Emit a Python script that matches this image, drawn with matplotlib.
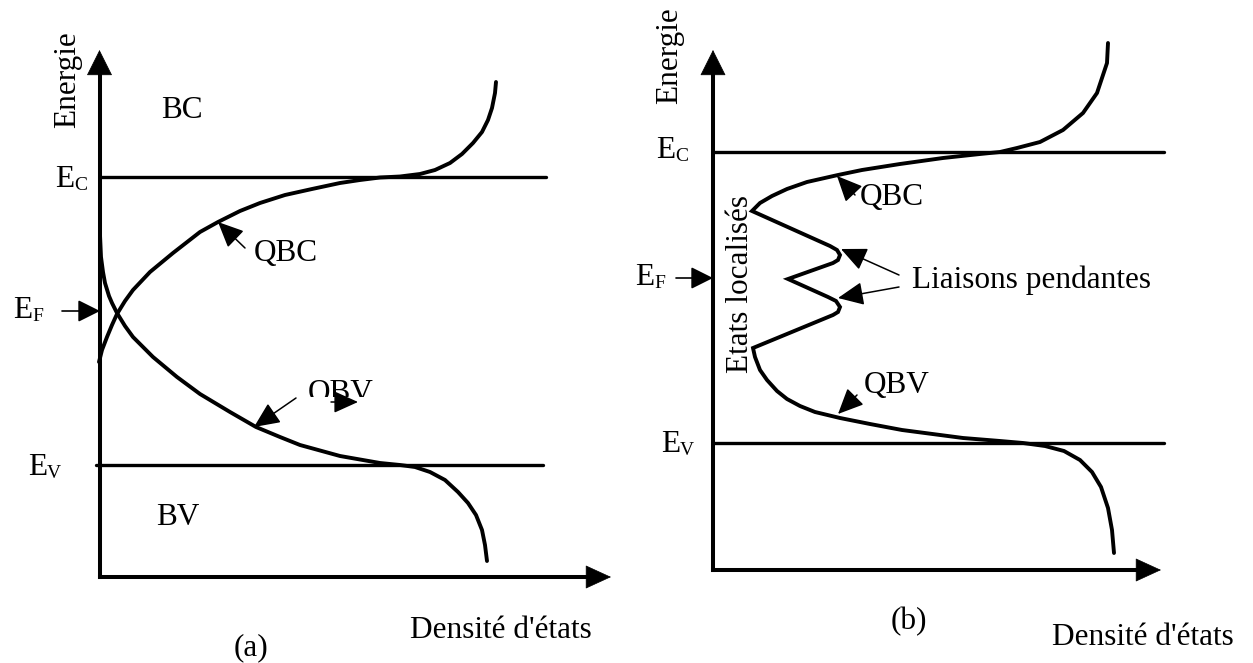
import matplotlib
matplotlib.use('Agg')
import matplotlib.pyplot as plt
from matplotlib.patches import Rectangle

plt.rcParams['font.family'] = ['Liberation Serif', 'DejaVu Serif']

W, H = 1253, 663

# ---------------- data (pixel space) ----------------
# Panel (a): band-tail curves
qbc_a_x = [99, 102, 107, 112, 117, 125, 133, 150, 173, 200, 218, 240, 260, 285, 312,
           340, 360, 380, 400, 420, 435, 450, 462, 473, 482, 488, 492, 495, 496]
qbc_a_y = [362, 350, 337, 325, 314, 301, 290, 272, 253, 232, 222, 211, 203, 195, 189,
           183, 180, 177.5, 176.5, 174, 170, 163, 154, 143, 132, 120, 108, 93, 82]
qbv_a_x = [100, 101, 103, 105, 109, 112, 117, 125, 133, 153, 177, 200, 230, 256, 280,
           300, 340, 380, 400, 415, 430, 445, 458, 468, 476, 482, 485, 487]
qbv_a_y = [235, 257, 272, 283, 296, 303, 313, 326, 337, 357, 377, 394, 412, 427, 437,
           445, 456, 463, 465, 467, 472, 480, 492, 503, 515, 530, 545, 561]

# Panel (b): density of states with localized states and dangling bonds
dos_b_x = [1108, 1107, 1097, 1083, 1063, 1040, 1017, 1000, 980, 943, 900, 862, 838, 807,
           787, 772, 760, 752,
           830, 837, 840, 838, 833, 788, 828, 836, 840, 838, 833, 753,
           755, 760, 767, 777, 787, 800, 815, 840, 870, 902, 963, 1000, 1023, 1045, 1064,
           1080, 1092, 1101, 1108, 1112, 1114]
dos_b_y = [43, 63, 93, 113, 130, 142, 148, 152, 154, 158, 164, 170, 175, 182,
           189, 196, 203, 211,
           246, 250, 255, 260, 263, 279, 297, 301, 307, 312, 315, 348,
           357, 370, 380, 391, 399, 406, 412, 418, 424, 430, 438, 441, 443, 446, 451,
           460, 472, 487, 508, 530, 553]

# Energy levels
levels_a = {'Ec': 177, 'Ev': 465, 'EF': 311}
levels_b = {'Ec': 152, 'Ev': 443, 'EF': 278}

# annotation arrows: (tail, tip)
ann_arrows = [((245, 248), (218, 222)),   # QBC (a)
              ((296, 398), (254, 427)),   # QBV (a)
              ((855, 195), (837, 176)),   # QBC (b)
              ((857, 395), (838, 414)),   # QBV (b)
              ((899, 275), (841, 249)),   # liaisons 1
              ((899, 287), (838, 298))]   # liaisons 2

# ---------------- figure ----------------
fig = plt.figure(figsize=(W / 100, H / 100), dpi=100)
ax = fig.add_axes([0, 0, 1, 1])
ax.set_xlim(0, W)
ax.set_ylim(H, 0)
ax.axis('off')

K = 'black'
LW_AX, LW_LVL, LW_CRV = 2.9, 2.4, 2.8
FS, FS_SUB = 22.5, 14


def arrow(tail, tip, hl, hw, lw=1.1, z=5):
    ax.annotate('', xy=tip, xytext=tail, annotation_clip=False, zorder=z,
                arrowprops=dict(arrowstyle=f'-|>,head_length={hl * 0.72},head_width={hw * 0.72}',
                                mutation_scale=1, lw=lw, color=K, shrinkA=0, shrinkB=0))


def sublabel(x, yb, main, sub):
    ax.text(x, yb, main, ha='right', va='baseline', fontsize=FS)
    ax.text(x, yb + 3, sub, ha='left', va='baseline', fontsize=FS_SUB)


def frame(x0, y0, ytop, xright):
    ax.plot([x0, x0], [y0, ytop + 20], color=K, lw=LW_AX, solid_capstyle='projecting')
    ax.plot([x0, xright - 20], [y0, y0], color=K, lw=LW_AX, solid_capstyle='projecting')
    arrow((x0, ytop + 24), (x0, ytop), 24, 12, lw=0.5)
    arrow((xright - 24, y0), (xright, y0), 24, 11, lw=0.5)


# Panel (a)
frame(99.5, 577, 50, 611)
ax.plot([99.5, 546], [levels_a['Ec']] * 2, color=K, lw=LW_LVL, solid_capstyle='round')
ax.plot([96, 543], [levels_a['Ev']] * 2, color=K, lw=LW_LVL, solid_capstyle='round')
ax.plot(qbc_a_x, qbc_a_y, color=K, lw=LW_CRV, solid_capstyle='round', solid_joinstyle='round')
ax.plot(qbv_a_x, qbv_a_y, color=K, lw=LW_CRV, solid_capstyle='round', solid_joinstyle='round')
arrow((62, levels_a['EF']), (100, levels_a['EF']), 19, 9.5, lw=1.2)

ax.text(67.5, 80, 'Energie', rotation=90, ha='center', va='center', fontsize=FS)
ax.text(182, 118, 'BC', ha='center', va='baseline', fontsize=FS)
ax.text(178, 525, 'BV', ha='center', va='baseline', fontsize=FS)
sublabel(74, 187, 'E', 'C')
sublabel(32, 318, 'E', 'F')
sublabel(47, 475, 'E', 'V')
ax.text(286, 261, 'QBC', ha='center', va='baseline', fontsize=FS)
ax.text(341, 401, 'QBV', ha='center', va='baseline', fontsize=FS, zorder=3)
ax.add_patch(Rectangle((304, 397), 75, 13, facecolor='white', edgecolor='none', zorder=4))
arrow((331, 402), (358, 402), 21, 9.5, lw=1.1, z=6)
ax.text(501, 638, "Densité d'états", ha='center', va='baseline', fontsize=FS)
ax.text(251, 655, '(a)', ha='center', va='baseline', fontsize=FS)

# Panel (b)
frame(713, 570, 50, 1161)
ax.plot([713, 1164], [levels_b['Ec']] * 2, color=K, lw=LW_LVL, solid_capstyle='round')
ax.plot([713, 1164], [levels_b['Ev']] * 2, color=K, lw=LW_LVL, solid_capstyle='round')
ax.plot(dos_b_x, dos_b_y, color=K, lw=LW_CRV, solid_capstyle='round', solid_joinstyle='miter')
arrow((676, levels_b['EF']), (713, levels_b['EF']), 19, 9.5, lw=1.2)

ax.text(669.5, 56, 'Energie', rotation=90, ha='center', va='center', fontsize=FS)
ax.text(740, 284, 'Etats localisés', rotation=90, ha='center', va='center', fontsize=FS)
sublabel(675, 158, 'E', 'C')
sublabel(654, 285, 'E', 'F')
sublabel(680, 452, 'E', 'V')
ax.text(892, 205, 'QBC', ha='center', va='baseline', fontsize=FS)
ax.text(897, 393, 'QBV', ha='center', va='baseline', fontsize=FS)
ax.text(1031, 288, 'Liaisons pendantes', ha='center', va='baseline', fontsize=FS)
ax.text(909, 629, '(b)', ha='center', va='baseline', fontsize=FS)
ax.text(1143, 645, "Densité d'états", ha='center', va='baseline', fontsize=FS)

for tail, tip in ann_arrows:
    arrow(tail, tip, 22, 10, lw=1.1)

fig.savefig('out.png', dpi=100)
